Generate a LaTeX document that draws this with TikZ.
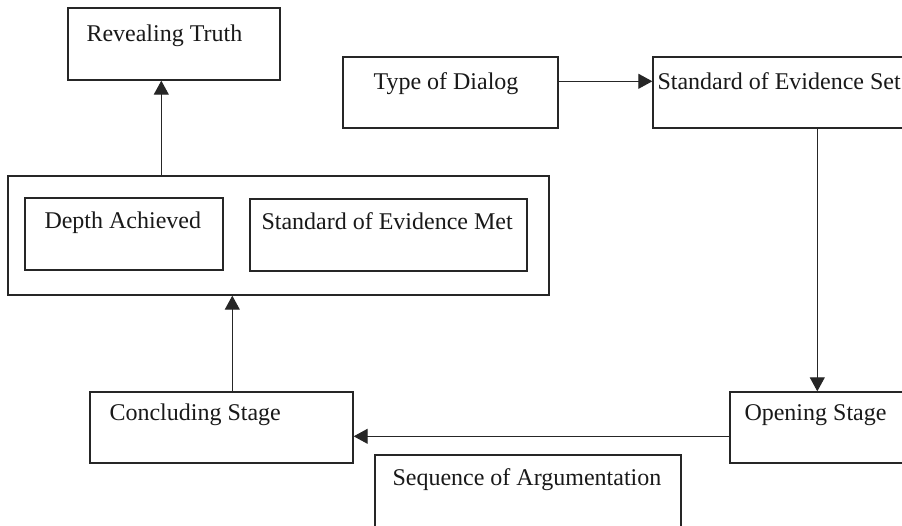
\documentclass[tikz,border=0pt]{standalone}
\usepackage{fontspec}
\setmainfont{Liberation Serif}
\usetikzlibrary{arrows.meta,calc}
\begin{document}
\begin{tikzpicture}[x=1pt,y=-1pt,
  box/.style={draw=black!85, line width=1.4pt, inner sep=0pt, minimum width=#1},
  txt/.style={anchor=base west, inner sep=0pt, text=black!90, font=\fontsize{24}{28}\selectfont},
  conn/.style={draw=black!85, line width=1.1pt, -{Triangle[length=14pt,width=15pt]}}]
\clip (0,0) rectangle (902,526);
\fill[white] (0,0) rectangle (902,526);

% boxes
\node[box=212pt, minimum height=72pt] (rt)   at (174,44)    {};
\node[box=541pt, minimum height=119pt] (outer) at (278.5,235.5) {};
\node[box=198pt, minimum height=72pt] (da)   at (124,234)   {};
\node[box=277pt, minimum height=72pt] (sem)  at (388.5,235) {};
\node[box=215pt, minimum height=71pt] (tod)  at (450.5,92.5) {};
\node[box=277pt, minimum height=71pt] (soes) at (791.5,92.5) {};
\node[box=263pt, minimum height=71pt] (cs)   at (221.5,427.5) {};
\node[box=200pt, minimum height=71pt] (os)   at (830,427.5) {};
\node[box=306pt, minimum height=105pt] (sa)  at (528,507.5) {};

% labels
\node[txt] (rtl)   at ($(rt.north west)+(19,34)$)   {Revealing Truth};
\node[txt] (dal)   at ($(da.north west)+(20,31)$)   {Depth Achieved};
\node[txt] (seml)  at ($(sem.north west)+(12,31)$)  {Standard of Evidence Met};
\node[txt] (todl)  at ($(tod.north west)+(31,33)$)  {Type of Dialog};
\node[txt] (soesl) at ($(soes.north west)+(5,33)$)  {Standard of Evidence Set};
\node[txt] (csl)   at ($(cs.north west)+(20,29)$)   {Concluding Stage};
\node[txt] (osl)   at ($(os.north west)+(15,29)$)   {Opening Stage};
\node[txt] (sal)   at ($(sa.north west)+(18,31)$)   {Sequence of Argumentation};

% connectors
\coordinate (c1) at ($(outer.north west)+(154,0)$);
\draw[conn] (c1) -- (c1 |- rt.south);
\coordinate (c2) at ($(tod.north east)+(0,25)$);
\draw[conn] (c2) -- (c2 -| soes.west);
\coordinate (c3) at ($(soes.south west)+(165,0)$);
\draw[conn] (c3) -- (c3 |- os.north);
\coordinate (c4) at ($(os.north west)+(0,45)$);
\draw[conn] (c4) -- (c4 -| cs.east);
\coordinate (c5) at ($(cs.north west)+(143,0)$);
\draw[conn] (c5) -- (c5 |- outer.south);
\end{tikzpicture}
\end{document}
